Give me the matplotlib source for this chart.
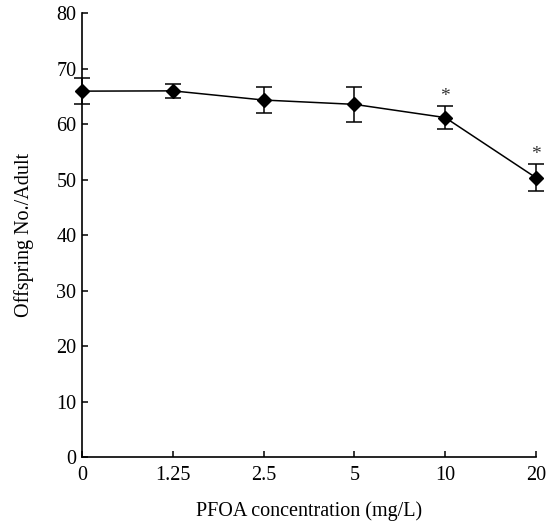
import matplotlib
matplotlib.use("Agg")
import matplotlib.pyplot as plt

conc_labels = ["0", "1.25", "2.5", "5", "10", "20"]
offspring = [65.95, 66.0, 64.35, 63.57, 61.19, 50.36]
err = [2.35, 1.2, 2.4, 3.2, 2.0, 2.4]
significant = [False, False, False, False, True, True]

plt.rcParams["font.family"] = ["Liberation Serif", "DejaVu Serif"]

fig = plt.figure(figsize=(5.54, 5.24), dpi=100)
ax = fig.add_axes([0.148, 0.127, 0.8195, 0.848])

x = list(range(len(conc_labels)))
ax.errorbar(x, offspring, yerr=err, color="black", marker="D", markersize=7,
            linewidth=1.1, elinewidth=1.1, capsize=6, capthick=1.1, clip_on=False)

for xi, yi, ei, s in zip(x, offspring, err, significant):
    if s:
        ax.text(xi, yi + ei + 0.3, "*", ha="center", va="bottom", fontsize=14, color="#333333")

ax.set_xlim(0, len(conc_labels) - 1)
ax.set_ylim(0, 80)
ax.set_xticks(x)
ax.set_xticklabels(conc_labels)
ax.set_yticks(range(0, 81, 10))

for side in ["top", "right"]:
    ax.spines[side].set_visible(False)
for side in ["left", "bottom"]:
    ax.spines[side].set_linewidth(1.2)

ax.tick_params(direction="in", length=4, width=1.1, labelsize=14.5, colors="black")
ax.tick_params(axis="x", pad=6)
ax.tick_params(axis="y", pad=4)

ax.set_xlabel("PFOA concentration (mg/L)", fontsize=14.5, labelpad=12)
ax.set_ylabel("Offspring No./Adult", fontsize=14.5, labelpad=16)

fig.savefig("out.png", dpi=100)
